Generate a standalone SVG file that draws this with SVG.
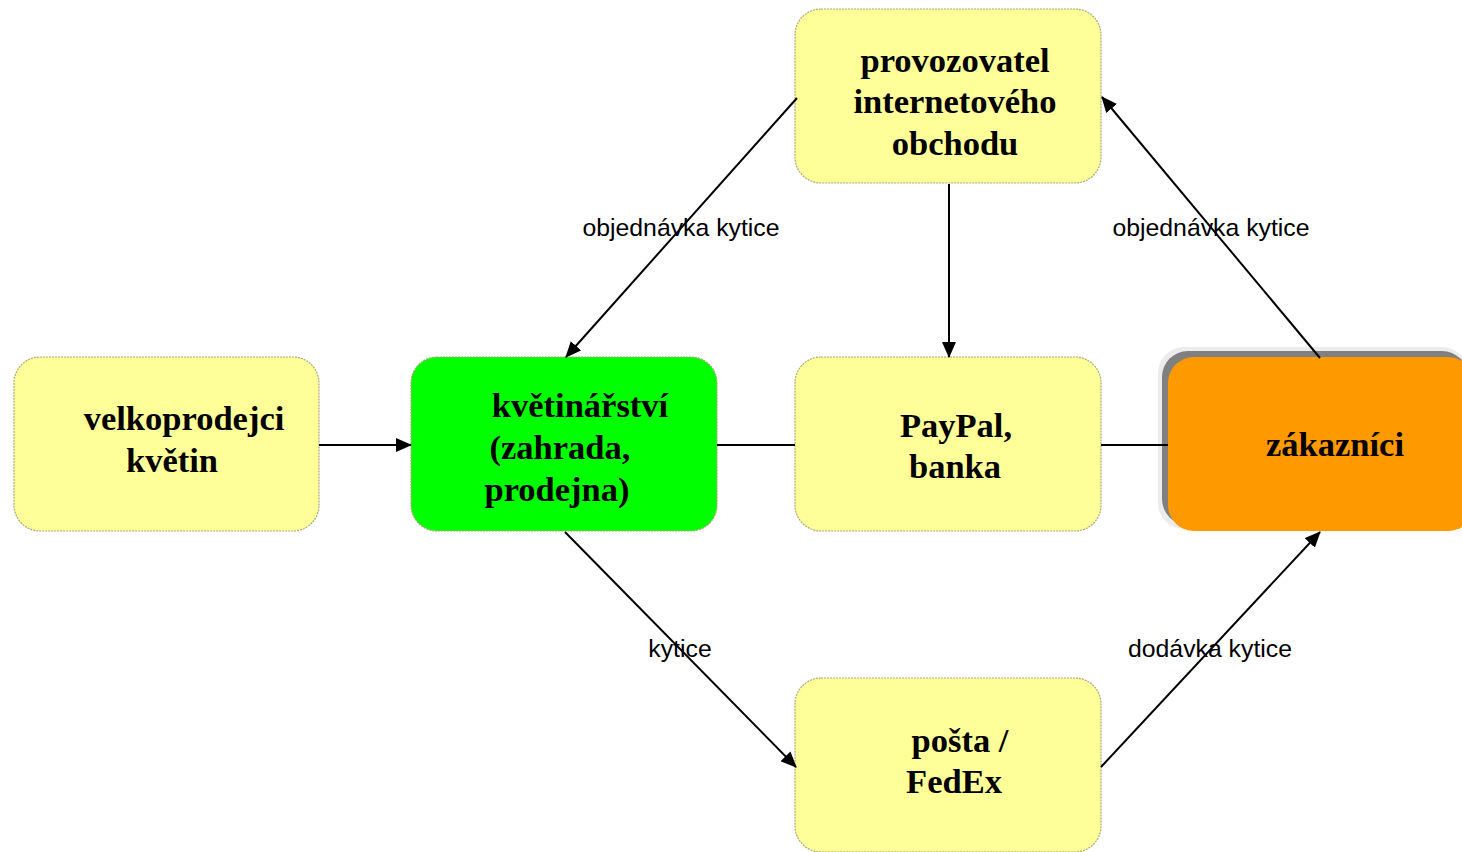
<svg xmlns="http://www.w3.org/2000/svg" width="1462" height="852" viewBox="0 0 1462 852">
<style>
.box{stroke:#a8a878;stroke-width:1.2;stroke-dasharray:2,1}
.yel{fill:#ffff99}
.t{font-family:"Liberation Serif","Times New Roman",serif;font-weight:bold;font-size:34.5px;fill:#000;text-anchor:middle}
.lbl{font-family:"Liberation Sans",Arial,sans-serif;font-size:24.8px;fill:#000;text-anchor:middle}
.ln{stroke:#000;stroke-width:2;fill:none}
</style>
<defs>
<marker id="ah" markerUnits="userSpaceOnUse" markerWidth="16" markerHeight="14" refX="15" refY="7" orient="auto">
<path d="M0,0 L16,7 L0,14 Z" fill="#000"/>
</marker>
</defs>
<rect width="1462" height="852" fill="#fff"/>
<g id="velkoprodejci">
<rect class="box yel" x="14" y="357" width="305" height="174" rx="26"/>
<text class="t" x="184" y="430">velkoprodejci</text>
<text class="t" x="172" y="472">květin</text>
</g>
<g id="kvetinarstvi">
<rect class="box" x="411" y="357" width="306" height="174" rx="26" fill="#00ff00"/>
<text class="t" x="580" y="417">květinářství</text>
<text class="t" x="560" y="459">(zahrada,</text>
<text class="t" x="557" y="501">prodejna)</text>
</g>
<g id="paypal">
<rect class="box yel" x="795" y="357" width="306" height="174" rx="26"/>
<text class="t" x="956" y="437">PayPal,</text>
<text class="t" x="955" y="478">banka</text>
</g>
<g id="provozovatel">
<rect class="box yel" x="795" y="9" width="306" height="174" rx="26"/>
<text class="t" x="955" y="72">provozovatel</text>
<text class="t" x="955" y="113">internetového</text>
<text class="t" x="955" y="155">obchodu</text>
</g>
<g id="posta">
<rect class="box yel" x="795" y="678" width="306" height="174" rx="26"/>
<text class="t" x="960" y="752">pošta /</text>
<text class="t" x="954" y="793">FedEx</text>
</g>
<g id="zakaznici">
<rect x="1158" y="347" width="310" height="182" rx="26" fill="#ececec"/>
<rect x="1162" y="351" width="306" height="174" rx="26" fill="#808080"/>
<rect x="1168" y="357" width="306" height="174" rx="26" fill="#ff9900"/>
<text class="t" x="1335" y="456">zákazníci</text>
</g>
<g id="connectors">
<line class="ln" x1="319" y1="445" x2="411" y2="445" marker-end="url(#ah)"/>
<line class="ln" x1="717" y1="445" x2="795" y2="445"/>
<line class="ln" x1="1101" y1="445" x2="1168" y2="445"/>
<line class="ln" x1="949" y1="184" x2="949" y2="357" marker-end="url(#ah)"/>
<line class="ln" x1="797" y1="98" x2="566" y2="357" marker-end="url(#ah)"/>
<line class="ln" x1="1320" y1="358" x2="1102" y2="97" marker-end="url(#ah)"/>
<line class="ln" x1="565" y1="532" x2="796" y2="767" marker-end="url(#ah)"/>
<line class="ln" x1="1101" y1="767" x2="1320" y2="532" marker-end="url(#ah)"/>
</g>
<g id="labels">
<text class="lbl" x="681" y="236">objednávka kytice</text>
<text class="lbl" x="1211" y="236">objednávka kytice</text>
<text class="lbl" x="680" y="657">kytice</text>
<text class="lbl" x="1210" y="657">dodávka kytice</text>
</g>
</svg>
